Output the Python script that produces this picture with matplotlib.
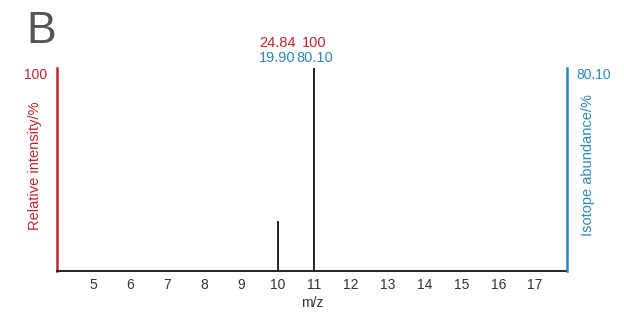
import numpy as np
import matplotlib
matplotlib.use("Agg")
import matplotlib.pyplot as plt

plt.rcParams['font.family'] = ['Liberation Sans', 'DejaVu Sans']

# boron isotopes
mz = [10, 11]
rel_intensity = [24.84, 100]
abundance = [19.90, 80.10]
intensity_labels = ["24.84", "100"]
abundance_labels = ["19.90", "80.10"]
xticks = list(range(5, 18))

red = '#c0272d'
blue = '#2a88bb'
grey = '#555555'

fig = plt.figure(figsize=(6.24, 3.15), dpi=100)
ax = fig.add_axes([0.0913, 0.1397, 0.8174, 0.6443])

ax.vlines(mz, 0, rel_intensity, color='#222222', linewidth=1.4)
ax.set_xlim(4.0, 17.87)
ax.set_ylim(0, 100)

ax.set_xticks(xticks)
ax.tick_params(axis='x', length=0, pad=5, labelsize=10, labelcolor='#333333')
ax.set_yticks([100])
ax.set_yticklabels(["100"])
ax.tick_params(axis='y', length=0, pad=7, labelsize=10, labelcolor=red)
for lbl in ax.get_yticklabels():
    lbl.set_verticalalignment('top')

for side in ['top', 'right']:
    ax.spines[side].set_visible(False)
ax.spines['left'].set_color(red)
ax.spines['left'].set_linewidth(1.8)
ax.spines['bottom'].set_color('#222222')
ax.spines['bottom'].set_linewidth(1.4)

ax.set_xlabel("m/z", fontsize=10, color='#333333')
ax.xaxis.set_label_coords(0.5, -0.125)
ax.set_ylabel("Relative intensity/%", fontsize=10.5, color=red)
ax.yaxis.set_label_coords(-0.029, 0.52)

ax2 = ax.twinx()
ax2.set_ylim(0, abundance[1])
ax2.set_yticks([abundance[1]])
ax2.set_yticklabels([abundance_labels[1]])
ax2.tick_params(axis='y', length=0, pad=7, labelsize=10, labelcolor=blue)
for lbl in ax2.get_yticklabels():
    lbl.set_verticalalignment('top')
for side in ['top', 'left', 'bottom']:
    ax2.spines[side].set_visible(False)
ax2.spines['right'].set_color(blue)
ax2.spines['right'].set_linewidth(1.8)
ax2.set_ylabel("Isotope abundance/%", fontsize=10.5, color=blue)
ax2.yaxis.set_label_coords(1.027, 0.52)

# peak labels above the plot
for x, t1, t2 in zip(mz, intensity_labels, abundance_labels):
    ax.annotate(t1, xy=(x, 1.0), xycoords=('data', 'axes fraction'),
                xytext=(0, 18), textcoords='offset points',
                ha='center', va='center', color=red, fontsize=10.5)
    ax.annotate(t2, xy=(x, 1.0), xycoords=('data', 'axes fraction'),
                xytext=(0, 7), textcoords='offset points',
                ha='center', va='center', color=blue, fontsize=10.5)

fig.text(0.043, 0.9, "B", fontsize=32, color=grey, ha='left', va='center')

fig.savefig("out.png", dpi=100)
